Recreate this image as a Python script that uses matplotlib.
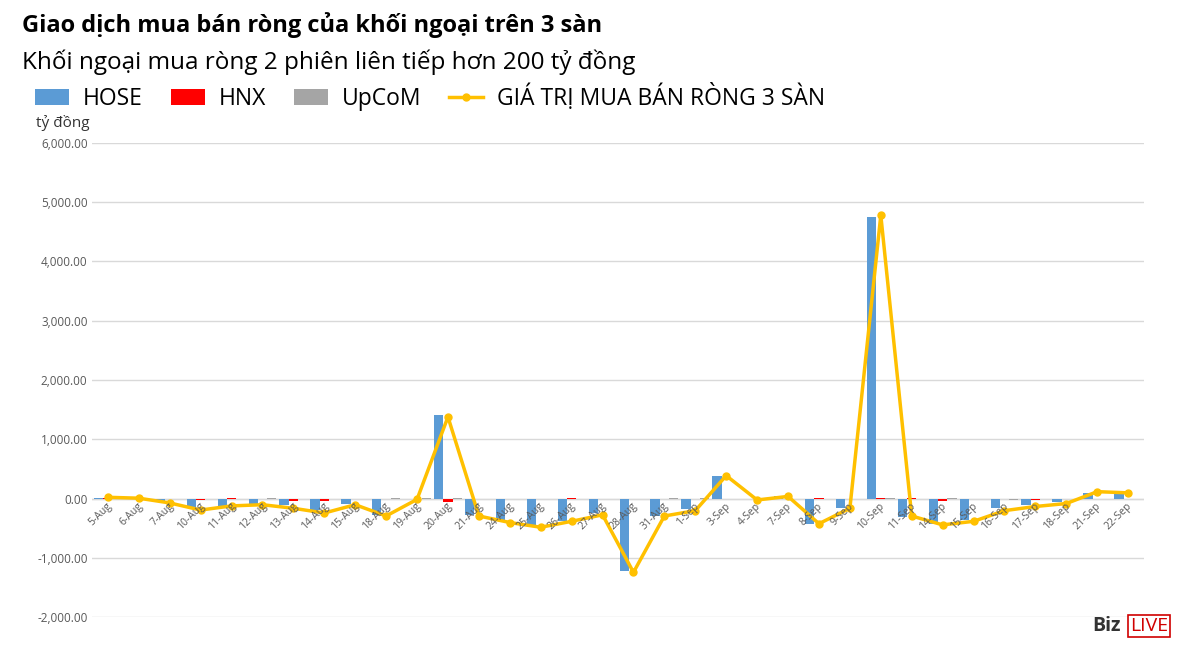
import numpy as np
import matplotlib.pyplot as plt
from matplotlib.ticker import FuncFormatter

dates = ["5-Aug", "6-Aug", "7-Aug", "10-Aug", "11-Aug", "12-Aug", "13-Aug", "14-Aug",
         "15-Aug", "18-Aug", "19-Aug", "20-Aug", "21-Aug", "24-Aug", "25-Aug", "26-Aug",
         "27-Aug", "28-Aug", "31-Aug", "1-Sep", "3-Sep", "4-Sep", "7-Sep", "8-Sep",
         "9-Sep", "10-Sep", "11-Sep", "14-Sep", "15-Sep", "16-Sep", "17-Sep", "18-Sep",
         "21-Sep", "22-Sep"]
hose = [10, 5, -60, -150, -120, -100, -110, -190, -90, -270, -10, 1420, -270, -370,
        -470, -370, -240, -1220, -290, -180, 390, -10, 50, -430, -160, 4750, -310,
        -420, -360, -160, -110, -60, 100, 100]
hnx = [5, 3, -10, -15, 10, -10, -30, -30, -10, -10, -5, -50, -10, -10, -10, 10, -10,
       -10, -5, -5, -5, -5, -10, 10, -5, 20, 20, -30, -10, -5, -20, -10, -5, -5]
upcom = [5, 2, -5, -5, -5, 5, -5, -5, -5, 5, 5, 5, -5, -5, -5, -10, -5, -5, 5, 5, -5,
         -5, -5, -5, -5, 10, -5, 5, -5, -20, -5, -5, -5, -5]
total = [25, 10, -70, -190, -120, -100, -160, -240, -100, -290, -10, 1380, -290, -400,
         -480, -380, -270, -1240, -290, -200, 390, -20, 40, -420, -160, 4780, -290,
         -440, -380, -200, -130, -80, 120, 100]

plt.rcParams['font.family'] = ['Open Sans', 'DejaVu Sans']
fig = plt.figure(figsize=(12, 6.52), dpi=100)
ax = fig.add_axes([0.077, 0.053, 0.876, 0.728])

x = np.arange(len(dates))
w = 0.3
b1 = ax.bar(x - w, hose, w, color="#5b9bd5", label="HOSE", zorder=2)
b2 = ax.bar(x, hnx, w, color="#ff0000", label="HNX", zorder=2)
b3 = ax.bar(x + w, upcom, w, color="#a5a5a5", label="UpCoM", zorder=2)
l1, = ax.plot(x, total, color="#ffc000", lw=2.5, marker="o", ms=5,
              label="GIÁ TRỊ MUA BÁN RÒNG 3 SÀN", zorder=3)

ax.set_ylim(-2000, 6000)
ax.set_yticks(range(-2000, 6001, 1000))
ax.yaxis.set_major_formatter(FuncFormatter(lambda v, p: f"{v:,.2f}"))
ax.set_xlim(-0.5, len(dates) - 0.5)
ax.grid(axis="y", color="#d9d9d9", lw=1, zorder=0)
ax.axhline(0, color="#d9d9d9", lw=1, zorder=1)
for s in ax.spines.values():
    s.set_visible(False)
ax.tick_params(axis="both", length=0, colors="#595959", labelsize=8.5)
ax.set_xticks([])
for xi, d in zip(x, dates):
    ax.text(xi + 0.2, -30, d, rotation=45, ha="right", va="top", fontsize=7.5, color="#595959")

fig.text(0.018, 0.962, "Giao dịch mua bán ròng của khối ngoại trên 3 sàn", fontsize=17, fontweight="bold", va="center")
fig.text(0.018, 0.905, "Khối ngoại mua ròng 2 phiên liên tiếp hơn 200 tỷ đồng", fontsize=17.5, va="center")
fig.text(0.03, 0.812, "tỷ đồng", fontsize=11, va="center", color="#333333")
fig.legend([b1, b2, b3, l1], [h.get_label() for h in (b1, b2, b3, l1)],
           loc="center left", bbox_to_anchor=(0.012, 0.85), ncol=4, frameon=False,
           fontsize=16.5, handlelength=1.5, columnspacing=1.2, handletextpad=0.6)
fig.text(0.91, 0.04, "Biz", fontsize=14, fontweight="bold", color="#333333", va="center")
fig.text(0.942, 0.04, "LIVE", fontsize=14, color="#d00000", va="center",
         bbox=dict(boxstyle="square,pad=0.1", fc="white", ec="#d00000", lw=1.2))
fig.savefig("out.png", dpi=100)
